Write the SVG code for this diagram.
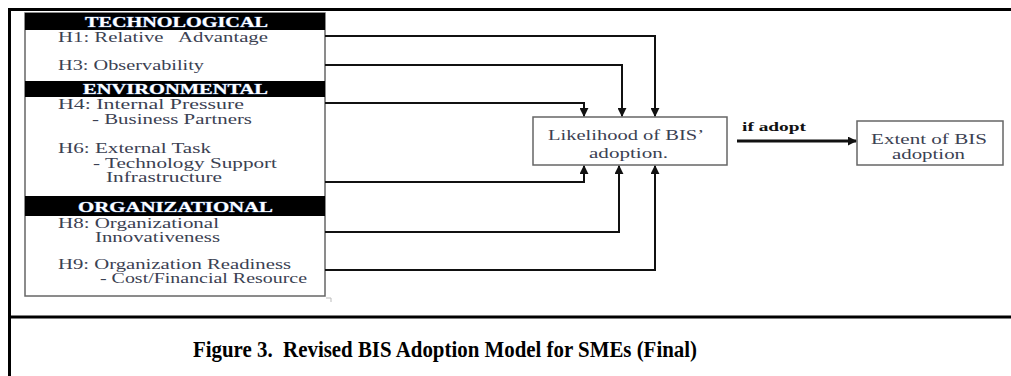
<svg xmlns="http://www.w3.org/2000/svg" width="1011" height="376" viewBox="0 0 1011 376">
<defs>
<marker id="ah" viewBox="0 0 10 10" refX="9" refY="5" markerWidth="4.5" markerHeight="4.5" orient="auto" markerUnits="strokeWidth">
<path d="M0,0 L10,5 L0,10 Z" fill="#111"/>
</marker>
<marker id="ah2" viewBox="0 0 10 10" refX="9" refY="5" markerWidth="3" markerHeight="3" orient="auto" markerUnits="strokeWidth">
<path d="M0,0 L10,5 L0,10 Z" fill="#111"/>
</marker>
</defs>
<style>
.t{font-family:"Liberation Serif","Times New Roman",serif;font-size:15px;fill:#3b4152}
.h{font-family:"Liberation Serif","Times New Roman",serif;font-size:14px;font-weight:bold;fill:#fff;stroke:#5a7db5;stroke-width:0.7;paint-order:stroke}
.bar{fill:#000}
.box{fill:#fff;stroke:#666;stroke-width:1.5}
.c{fill:none;stroke:#111;stroke-width:2;marker-end:url(#ah)}
.frame{stroke:#000;stroke-width:3;fill:none}
</style>
<rect width="1011" height="376" fill="#fff"/>
<g id="frame">
<line class="frame" x1="9.5" y1="8" x2="9.5" y2="376"/>
<line class="frame" x1="8" y1="9.5" x2="1011" y2="9.5"/>
<line class="frame" x1="8" y1="317" x2="1011" y2="317"/>
</g>
<g id="factors">
<rect class="box" x="25" y="13" width="300" height="283"/>
<path d="M326,298 L331,298 L331,302" fill="none" stroke="#bbb" stroke-width="1"/>
<rect class="bar" x="25" y="13" width="300" height="17"/>
<text class="h" x="85" y="27" textLength="183" lengthAdjust="spacingAndGlyphs">TECHNOLOGICAL</text>
<text class="t" x="58" y="42" textLength="210" lengthAdjust="spacingAndGlyphs" xml:space="preserve">H1: Relative   Advantage</text>
<text class="t" x="58" y="70" textLength="146" lengthAdjust="spacingAndGlyphs">H3: Observability</text>
<rect class="bar" x="25" y="81" width="300" height="16"/>
<text class="h" x="83" y="94" textLength="185" lengthAdjust="spacingAndGlyphs">ENVIRONMENTAL</text>
<text class="t" x="58" y="109" textLength="186" lengthAdjust="spacingAndGlyphs">H4: Internal Pressure</text>
<text class="t" x="92" y="124" textLength="160" lengthAdjust="spacingAndGlyphs">- Business Partners</text>
<text class="t" x="58" y="153" textLength="153" lengthAdjust="spacingAndGlyphs">H6: External Task</text>
<text class="t" x="93" y="168" textLength="184" lengthAdjust="spacingAndGlyphs">- Technology Support</text>
<text class="t" x="106" y="182" textLength="116" lengthAdjust="spacingAndGlyphs">Infrastructure</text>
<rect class="bar" x="25" y="196" width="300" height="20"/>
<text class="h" x="78" y="212" textLength="195" lengthAdjust="spacingAndGlyphs">ORGANIZATIONAL</text>
<text class="t" x="58" y="228" textLength="161" lengthAdjust="spacingAndGlyphs">H8: Organizational</text>
<text class="t" x="95" y="242" textLength="125" lengthAdjust="spacingAndGlyphs">Innovativeness</text>
<text class="t" x="58" y="269" textLength="233" lengthAdjust="spacingAndGlyphs">H9: Organization Readiness</text>
<text class="t" x="100" y="283" textLength="207" lengthAdjust="spacingAndGlyphs">- Cost/Financial Resource</text>
</g>
<g id="likelihood">
<rect class="box" x="533" y="117" width="194" height="48"/>
<text class="t" x="548" y="140" textLength="156" lengthAdjust="spacingAndGlyphs">Likelihood of BIS’</text>
<text class="t" x="589" y="158" textLength="79" lengthAdjust="spacingAndGlyphs">adoption.</text>
</g>
<g id="extent">
<rect class="box" x="857" y="121" width="146" height="44"/>
<text class="t" x="871" y="144" textLength="116" lengthAdjust="spacingAndGlyphs">Extent of BIS</text>
<text class="t" x="892" y="159" textLength="73" lengthAdjust="spacingAndGlyphs">adoption</text>
</g>
<g id="connectors">
<polyline class="c" points="325,36 655,36 655,116"/>
<polyline class="c" points="325,65 622,65 622,116"/>
<polyline class="c" points="325,103 584,103 584,116"/>
<polyline class="c" points="325,182 584,182 584,166"/>
<polyline class="c" points="325,232 619,232 619,166"/>
<polyline class="c" points="325,270 655,270 655,166"/>
<line x1="737" y1="141" x2="856" y2="141" stroke="#111" stroke-width="3" marker-end="url(#ah2)"/>
<text x="742" y="131" font-family="'Liberation Serif','Times New Roman',serif" font-size="12" font-weight="bold" fill="#111" textLength="64" lengthAdjust="spacingAndGlyphs">if adopt</text>
</g>
<g id="caption">
<text x="193" y="357" font-family="'Liberation Serif','Times New Roman',serif" font-size="24" font-weight="bold" fill="#000" textLength="504" lengthAdjust="spacingAndGlyphs" xml:space="preserve">Figure 3.  Revised BIS Adoption Model for SMEs (Final)</text>
</g>
</svg>
